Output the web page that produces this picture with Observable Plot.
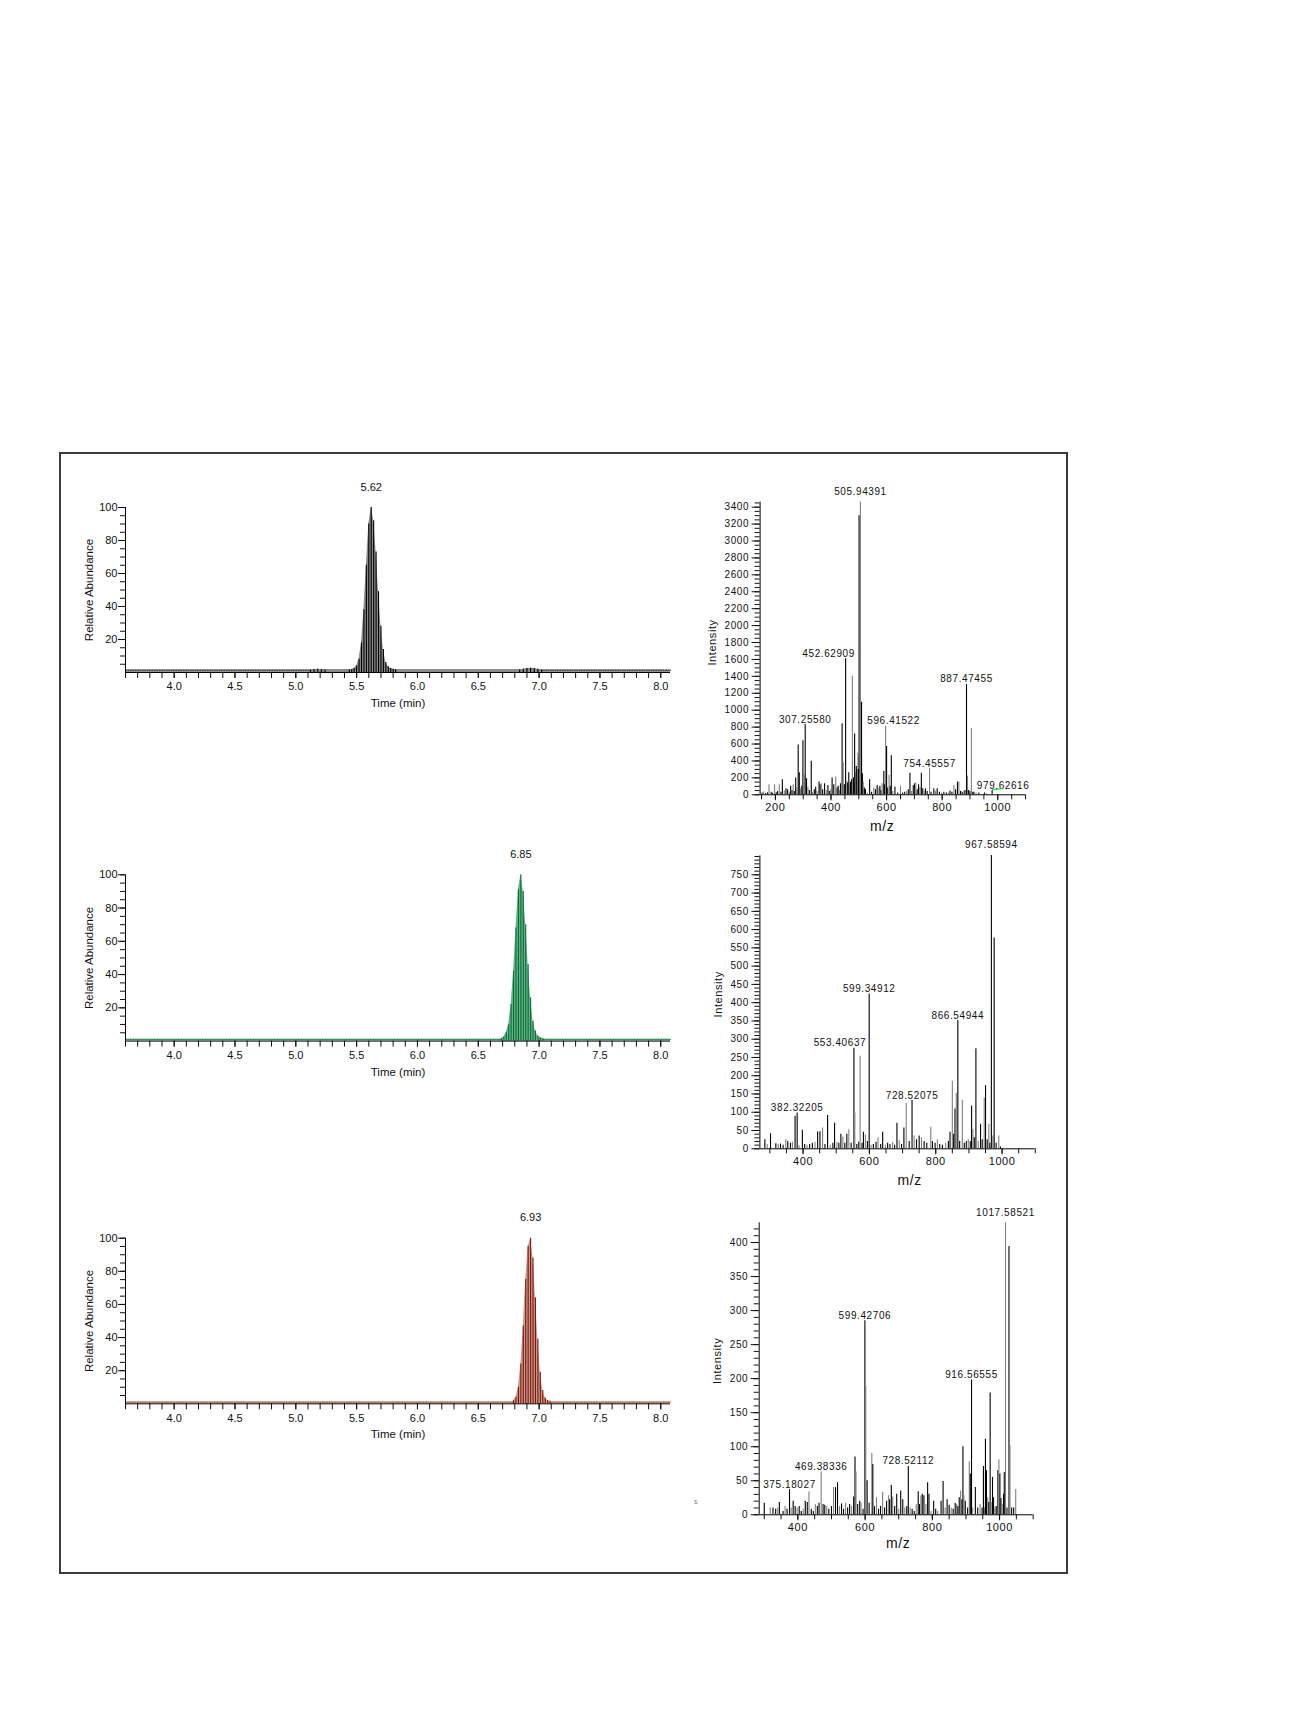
<!DOCTYPE html>
<html><head><meta charset="utf-8">
<script src="https://cdn.jsdelivr.net/npm/d3@7"></script>
<script src="https://cdn.jsdelivr.net/npm/@observablehq/plot@0.6"></script>
<style>
html,body{margin:0;padding:0;background:#fff;}
#page{position:relative;width:1299px;height:1732px;background:#fff;font-family:"Liberation Sans",Arial,sans-serif;overflow:hidden;}
#frame{position:absolute;left:59px;top:452px;width:1005px;height:1118px;border:2px solid #3a3a3a;}
.spec text{letter-spacing:0.6px;}
#stray{position:absolute;left:694px;top:1498px;font-size:7px;color:#777;}
</style></head><body><div id="page"><div id="frame"></div><span id="stray">s</span></div>
<script>
// ---------------- DATA ----------------
const timeDomain = [3.6, 8.08];
const timeTicks = [4.0, 4.5, 5.0, 5.5, 6.0, 6.5, 7.0, 7.5, 8.0];
const abundTicks = [20, 40, 60, 80, 100];

// chromatogram 1 (black)
const chrom1Time  = [5.12, 5.15, 5.18, 5.21, 5.24, 5.44, 5.46, 5.48, 5.50, 5.52, 5.54, 5.56, 5.58, 5.60, 5.62, 5.64, 5.66, 5.68, 5.70, 5.72, 5.74, 5.76, 5.78, 5.80, 5.82, 6.84, 6.87, 6.90, 6.93, 6.96, 6.99, 7.02];
const chrom1Abund = [1.5, 1.8, 2.0, 1.8, 1.5, 1.5, 1.8, 2.5, 4, 8, 18, 38, 65, 90, 100, 92, 73, 49, 28, 14, 6, 3.5, 2.5, 2, 1.6, 1.5, 2.0, 2.4, 2.6, 2.4, 2.0, 1.5];
const chrom1Base = 1.5;
const chrom1Apex = {t: 5.62, label: "5.62"};

// chromatogram 2 (green)
const chrom2Time  = [6.69, 6.71, 6.73, 6.75, 6.77, 6.79, 6.81, 6.83, 6.85, 6.87, 6.89, 6.91, 6.93, 6.95, 6.97, 6.99, 7.01, 7.03];
const chrom2Abund = [1.5, 2.5, 5, 10, 22, 42, 68, 91, 100, 90, 70, 46, 26, 12, 6, 3, 2, 1.5];
const chrom2Base = 1.1;
const chrom2Apex = {t: 6.85, label: "6.85"};

// chromatogram 3 (red)
const chrom3Time  = [6.79, 6.81, 6.83, 6.85, 6.87, 6.89, 6.91, 6.93, 6.95, 6.97, 6.99, 7.01, 7.03, 7.05, 7.07, 7.09];
const chrom3Abund = [2, 4, 10, 24, 47, 75, 95, 100, 88, 64, 39, 19, 8, 3.5, 2, 1.5];
const chrom3Base = 1.1;
const chrom3Apex = {t: 6.93, label: "6.93"};

// spectrum 1
const spec1MZ  = [152,158,165,172,177,185,190,197,203,208,214,220,225,232,238,244,250,255,260,264,268,273,277,282,286,290,295,299,303,307.2558,312,317,322,329,334,340,345,350,357,361,365,370,377,383,389,394,399,404,410,417,422,426,430,434,440,444,448,452.62909,457,460,464,467,470,474,477,481,485,488,491,494,497,499,501,505.94391,510,513,516,520,524,530,539,546,554,560,566,572,576,580,584,590,592,596.41522,600,604,609,613,617,622,630,640,650,658,665,672,678,684,690,696,701,705,710,715,720,725,730,735,740,746,754.45557,760,770,776,782,790,798,806,815,822,828,835,842,848,855,860,866,872,878,882,887.47455,891,895,900,905,910,914,922,932,952,960,979.62616];
const spec1Int = [20,35,15,25,120,30,18,120,25,40,118,30,177,45,70,60,30,100,50,120,40,197,80,590,260,70,100,640,236,830,190,90,50,395,30,60,90,40,150,120,130,60,130,50,110,40,60,197,120,210,80,100,50,130,840,375,120,1607,160,140,260,110,150,180,1400,200,720,260,335,300,490,300,3300,3460,1095,250,150,80,60,20,177,30,80,60,110,80,100,50,130,275,120,810,570,80,230,100,460,40,90,20,100,20,30,40,60,255,40,110,130,140,60,120,90,255,70,50,70,40,310,30,70,40,70,30,20,30,20,20,45,30,110,60,150,150,40,30,40,50,1305,220,50,40,785,30,30,20,20,20,12,50];
const spec1Labels = ["505.94391", "452.62909", "307.25580", "596.41522", "887.47455", "754.45557", "979.62616"];
const spec1XTicks = [200, 400, 600, 800, 1000];
const spec1NoiseMZ = [982, 1018];
const spec1NoiseInt = [62, 72];

// spectrum 2
const spec2MZ  = [285,292,302,318,325,332,340,348,354,362,368,376,382.32205,388,398,405,412,420,428,436,444,451,459,466,474,482,490,495,502,508,514,520,526,532,538,545,553.40637,556,562,568,572,578,582,588,594,599.34912,605,612,620,626,634,640,648,655,662,670,676,683,690,697,704,711,720,728.52075,735,742,750,757,765,773,785,790,798,805,812,820,830,838,843,850,854,858,862,866.54944,872,880,886,892,898,904,908,912,916,921,928,935,940,946,950,955,960,963,967.58594,972,976,982,990,995];
const spec2Int = [25,12,41,14,12,13,10,25,20,15,18,89,98,8,51,12,10,12,15,18,46,47,57,12,91,10,15,70,18,15,40,32,15,40,52,15,275,98,12,18,253,15,45,38,20,424,10,12,18,30,12,45,10,15,12,18,10,70,22,12,57,124,20,132,35,25,35,30,20,15,59,20,15,25,12,10,15,20,45,185,40,109,152,351,20,133,15,20,25,20,117,53,30,274,20,67,25,139,173,25,67,15,803,35,577,15,35,5];
const spec2Labels = ["967.58594", "599.34912", "866.54944", "553.40637", "728.52075", "382.32205"];
const spec2XTicks = [400, 600, 800, 1000];

// spectrum 3
const spec3MZ  = [300,318,326,334,340,345,356,362,368,375.18027,380,386,392,398,404,410,416,422,428,433,440,446,452,458,463,469.38336,475,480,486,492,500,506,512,518,524,530,536,542,548,554,560,566,570,573,578,584,588,594,599.42706,602,606,612,620,623,628,634,640,646,652,658,664,670,673,678,682,688,694,700,706,712,718,724,728.52112,734,740,746,752,758,762,766,770,775,781,786,790,796,804,810,816,826,832,838,844,850,856,862,868,872,876,880,884,888,891,894,898,905,910,913,916.56555,920,928,935,942,948,952,955,958,961,965,968,972,975,979,982,986,990,995,998,1001,1004,1008,1012,1014,1017.58521,1022,1028,1031,1036,1042,1048];
const spec3Int = [17,10,10,8,10,18,5,12,8,37,10,20,12,10,12,5,8,20,18,34,8,5,15,12,17,63,15,14,12,8,12,40,40,47,12,16,8,17,10,15,12,26,85,63,15,20,17,8,285,189,50,17,90,74,12,25,8,12,33,10,20,28,22,43,26,12,30,8,35,22,10,12,71,10,8,5,15,34,15,28,30,28,15,47,30,5,20,8,5,20,49,10,22,14,10,8,17,15,12,25,35,22,100,28,20,10,78,60,198,10,40,10,15,10,71,10,111,65,25,18,179,18,55,25,10,12,65,81,60,24,15,30,62,429,10,394,102,10,10,37];
const spec3Labels = ["1017.58521", "599.42706", "916.56555", "469.38336", "728.52112", "375.18027"];
const spec3XTicks = [400, 600, 800, 1000];

// ---------------- RENDER ----------------
const page = document.getElementById("page");
function place(svg, left, top) {
  svg.style.position = "absolute";
  svg.style.left = left + "px";
  svg.style.top = top + "px";
  page.appendChild(svg);
}
const FONT = '"Liberation Sans", Arial, sans-serif';
const intFmt = d3.format("d");

function chromatogram(o) {
  const {times, values, base, apex, dark, light, baseColor, left, top, x0, x1, y0, y100} = o;
  const mr = 15, mb = 50;
  const width = x1 - left + mr, height = y0 - top + mb;
  const peak = times.map((t, i) => ({t, v: values[i]}));
  const baseLine = timeDomain.map(t => ({t, v: base}));
  return Plot.plot({
    width, height,
    marginLeft: x0 - left, marginRight: mr, marginTop: y100 - top, marginBottom: mb,
    x: {domain: timeDomain},
    y: {domain: [0, 100]},
    style: {fontFamily: FONT, fontSize: "11px", color: "#111", background: "transparent", overflow: "visible"},
    marks: [
      Plot.areaY(baseLine, {x: "t", y: "v", fill: light, fillOpacity: 0.9}),
      Plot.lineY(baseLine, {x: "t", y: "v", stroke: baseColor, strokeWidth: 1.2, strokeDasharray: "1,1.4"}),
      Plot.areaY(peak, {x: "t", y: "v", fill: light}),
      Plot.ruleX(peak, {x: "t", y1: 0, y2: "v", stroke: dark, strokeWidth: 1.1}),
      Plot.ruleY([0], {stroke: "#000", strokeWidth: 1}),
      Plot.ruleX([timeDomain[0]], {stroke: "#000", strokeWidth: 1}),
      Plot.axisX({ticks: d3.range(36, 81).map(d => d / 10), tickSize: 6, tickFormat: () => "", label: null}),
      Plot.axisX({ticks: timeTicks, tickSize: 6, tickPadding: 4, tickFormat: d3.format(".1f"), label: null, fontSize: 11}),
      Plot.axisY({ticks: d3.range(5, 101, 5), tickSize: 5, tickFormat: () => "", label: null}),
      Plot.axisY({ticks: abundTicks, tickSize: 7, tickPadding: 1, label: null, fontSize: 11}),
      Plot.text([apex], {x: "t", y: () => 100, text: "label", dy: -17, lineAnchor: "bottom", fontSize: 11}),
      Plot.text(["Time (min)"], {text: d => d, frameAnchor: "bottom", dy: 31, lineAnchor: "middle", textAnchor: "middle", fontSize: 11.5}),
      Plot.text(["Relative Abundance"], {text: d => d, frameAnchor: "left", rotate: -90, dx: -36, lineAnchor: "middle", textAnchor: "middle", fontSize: 11.5})
    ]
  });
}

function spectrum(o) {
  const {mz, inten, labels, xDomain, xTicks, yMax, yLabelMax, yStep, yMinorStep, left, top, x0, x1, y0, yTop, shift, mzDx, mzDy, intDx, intDy, extra} = o;
  const mr = 20, mb = 50;
  const width = x1 - left + mr, height = y0 - top + mb;
  const peaks = mz.map((m, i) => ({m, v: inten[i], i}));
  const unitPerPx = (xDomain[1] - xDomain[0]) / (x1 - x0);
  const vmax = d3.max(peaks, d => d.v);
  const lab = labels.map(t => {
    const m = +t;
    const p = d3.least(peaks, d => Math.abs(d.m - m));
    return {m: m + (shift[t] || 0) * unitPerPx, v: p.v, t};
  });
  const marks = [
    Plot.ruleX(peaks, {x: "m", y1: 0, y2: "v", stroke: d => (d.i % 3 === 1 ? "#808080" : "#000"), strokeWidth: 1.1}),
    Plot.ruleY([0], {stroke: "#000"}),
    Plot.ruleX([xDomain[0]], {stroke: "#000"}),
    Plot.axisX({ticks: d3.range(Math.ceil(xDomain[0] / 50) * 50, xDomain[1] + 1, 50), tickSize: 5, tickFormat: () => "", label: null}),
    Plot.axisX({ticks: xTicks, tickSize: 6, tickPadding: 2, tickFormat: intFmt, label: null, fontSize: 11}),
    Plot.axisY({ticks: d3.range(0, yMax + 0.1, yMinorStep), tickSize: 5, tickFormat: () => "", label: null}),
    Plot.axisY({ticks: d3.range(0, yLabelMax + 0.1, yStep), tickSize: 8, tickPadding: 3, tickFormat: intFmt, label: null, fontSize: 10}),
    Plot.text(lab.filter(d => d.v < vmax), {x: "m", y: "v", text: "t", dy: -2, lineAnchor: "bottom", fontSize: 10}),
    Plot.text(lab.filter(d => d.v >= vmax), {x: "m", y: "v", text: "t", dy: -7, lineAnchor: "bottom", fontSize: 10}),
    Plot.text(["m/z"], {text: d => d, frameAnchor: "bottom", dx: mzDx, dy: mzDy, lineAnchor: "middle", textAnchor: "middle", fontSize: 14}),
    Plot.text(["Intensity"], {text: d => d, frameAnchor: "left", rotate: -90, dx: intDx, dy: intDy, lineAnchor: "middle", textAnchor: "middle", fontSize: 11})
  ];
  if (extra) marks.push(extra);
  const svg = Plot.plot({
    width, height,
    marginLeft: x0 - left, marginRight: mr, marginTop: yTop - top, marginBottom: mb,
    x: {domain: xDomain},
    y: {domain: [0, yMax]},
    style: {fontFamily: FONT, fontSize: "10px", color: "#111", background: "transparent", overflow: "visible"},
    marks
  });
  svg.classList.add("spec");
  return svg;
}

// chromatograms
place(chromatogram({times: chrom1Time, values: chrom1Abund, base: chrom1Base, apex: chrom1Apex,
  dark: "#000", light: "#8a8a8a", baseColor: "#333", left: 62, top: 467, x0: 125, x1: 670, y0: 672, y100: 507}), 62, 467);
place(chromatogram({times: chrom2Time, values: chrom2Abund, base: chrom2Base, apex: chrom2Apex,
  dark: "#0d6b3a", light: "#62b487", baseColor: "#1f7a48", left: 62, top: 834, x0: 125, x1: 670, y0: 1040.6, y100: 874.3}), 62, 834);
place(chromatogram({times: chrom3Time, values: chrom3Abund, base: chrom3Base, apex: chrom3Apex,
  dark: "#7d1606", light: "#c99a90", baseColor: "#a24a3a", left: 62, top: 1197, x0: 125, x1: 670, y0: 1403.3, y100: 1237.7}), 62, 1197);

// spectra
const noise1 = spec1NoiseMZ.map((m, i) => ({m, v: spec1NoiseInt[i]}));
place(spectrum({mz: spec1MZ, inten: spec1Int, labels: spec1Labels, xDomain: [145, 1100], xTicks: spec1XTicks,
  yMax: 3460, yLabelMax: 3400, yStep: 200, yMinorStep: 50, left: 690, top: 470, x0: 759.6, x1: 1025.1, y0: 794.3, yTop: 501.6,
  shift: {"452.62909": -17, "596.41522": 8, "979.62616": 11}, mzDx: -10.7, mzDy: 32, intDx: -48, intDy: -6,
  extra: Plot.line(noise1, {x: "m", y: "v", stroke: "#33cc44", strokeWidth: 1.2})}), 690, 470);
place(spectrum({mz: spec2MZ, inten: spec2Int, labels: spec2Labels, xDomain: [270, 1100], xTicks: spec2XTicks,
  yMax: 802, yLabelMax: 750, yStep: 50, yMinorStep: 10, left: 690, top: 830, x0: 759.4, x1: 1034.8, y0: 1148.3, yTop: 855.3,
  shift: {"553.40637": -14}, mzDx: 12, mzDy: 31.7, intDx: -41.4, intDy: -8}), 690, 830);
place(spectrum({mz: spec3MZ, inten: spec3Int, labels: spec3Labels, xDomain: [285, 1100], xTicks: spec3XTicks,
  yMax: 429, yLabelMax: 400, yStep: 50, yMinorStep: 10, left: 690, top: 1198, x0: 758.7, x1: 1032.7, y0: 1514.3, yTop: 1222.3,
  shift: {}, mzDx: 2, mzDy: 28.7, intDx: -41.7, intDy: -8}), 690, 1198);
</script>
</body></html>
